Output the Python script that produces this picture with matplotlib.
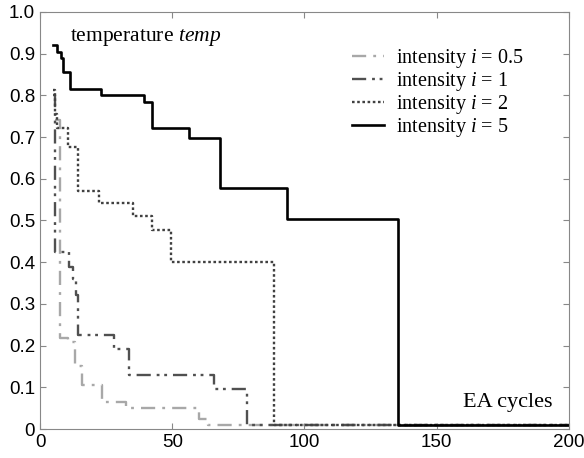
import matplotlib
matplotlib.use("Agg")
import matplotlib.pyplot as plt

# step breakpoints (EA cycle, temperature)
cycles_i05 = [5.5, 7.6, 10.5, 13.2, 16, 23.6, 32.4, 60, 63.5, 200]
temp_i05 = [0.74, 0.217, 0.208, 0.152, 0.105, 0.065, 0.05, 0.024, 0.01, 0.01]

cycles_i1 = [5, 5.8, 11, 12.3, 13.5, 14.5, 28, 33.7, 65.7, 78.3, 200]
temp_i1 = [0.80, 0.424, 0.389, 0.36, 0.321, 0.225, 0.193, 0.13, 0.096, 0.01, 0.01]

cycles_i2 = [4.8, 5.7, 6.3, 10.5, 14.5, 22.3, 35, 42.5, 49.5, 88.5, 200]
temp_i2 = [0.813, 0.755, 0.722, 0.677, 0.571, 0.543, 0.511, 0.477, 0.401, 0.01, 0.01]

cycles_i5 = [4.8, 6.5, 7.9, 8.8, 11.5, 23, 39.5, 42.3, 56.3, 68, 93.5, 135.5, 200]
temp_i5 = [0.92, 0.905, 0.89, 0.855, 0.815, 0.80, 0.783, 0.722, 0.697, 0.578, 0.503, 0.01, 0.01]

labels = [r"intensity $i$ = 0.5", r"intensity $i$ = 1", r"intensity $i$ = 2", r"intensity $i$ = 5"]

x_ticks = [0, 50, 100, 150, 200]
y_ticks = [0, 0.1, 0.2, 0.3, 0.4, 0.5, 0.6, 0.7, 0.8, 0.9, 1.0]
y_tick_labels = ["0", "0.1", "0.2", "0.3", "0.4", "0.5", "0.6", "0.7", "0.8", "0.9", "1.0"]

plt.rcParams["mathtext.fontset"] = "custom"
plt.rcParams["mathtext.it"] = "Liberation Serif:italic"
plt.rcParams["mathtext.rm"] = "Liberation Serif"

fig = plt.figure(figsize=(5.84, 4.58), dpi=100)
ax = fig.add_axes([0.0685, 0.0633, 0.9055, 0.9107])

ax.step(cycles_i05, temp_i05, where="post", color="#a8a8a8", lw=1.7,
        dashes=(6, 3, 1.2, 3), label=labels[0])
ax.step(cycles_i1, temp_i1, where="post", color="#505050", lw=1.7,
        dashes=(6, 2.5, 1.2, 2, 1.2, 2.5), label=labels[1])
ax.step(cycles_i2, temp_i2, where="post", color="#404040", lw=1.7,
        dashes=(1.1, 1.1), label=labels[2])
ax.step(cycles_i5, temp_i5, where="post", color="black", lw=1.9, label=labels[3])

ax.set_xlim(0, 200)
ax.set_ylim(0, 1.0)
ax.set_xticks(x_ticks)
ax.set_yticks(y_ticks)
ax.set_yticklabels(y_tick_labels)
ax.tick_params(direction="in", top=True, right=True, length=4, color="#888888",
               labelsize=13.5)
for lab in ax.get_xticklabels() + ax.get_yticklabels():
    lab.set_fontfamily("Liberation Sans")
for sp in ax.spines.values():
    sp.set_color("#888888")

ax.text(0.056, 0.965, r"temperature $temp$", transform=ax.transAxes,
        fontsize=15.5, family="Liberation Serif", va="top", ha="left")
ax.text(0.97, 0.04, "EA cycles", transform=ax.transAxes,
        fontsize=16, family="Liberation Serif", va="bottom", ha="right")

leg = ax.legend(loc="upper right", bbox_to_anchor=(0.93, 0.935), frameon=False,
                prop={"family": "Liberation Serif", "size": 14.5},
                handlelength=1.6, handletextpad=0.6, labelspacing=0.0,
                borderaxespad=0)

fig.savefig("out.png", dpi=100)
